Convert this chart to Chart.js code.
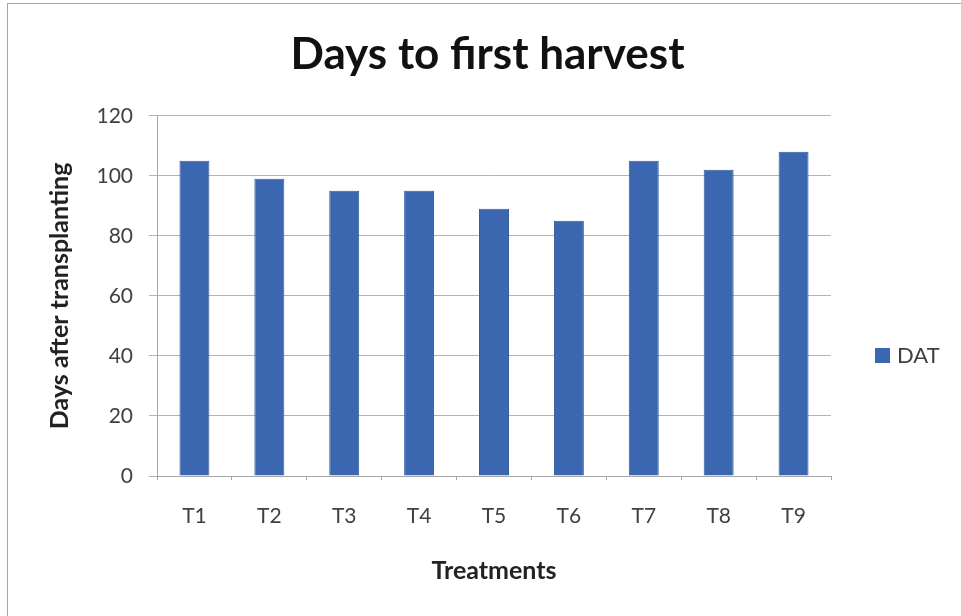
<!DOCTYPE html>
<html lang="en">
<head>
    <meta charset="UTF-8">
    <script src="https://cdn.jsdelivr.net/npm/chart.js@4.4.0/dist/chart.umd.min.js"></script>
    <title>Days to first harvest</title>
    <style>
        body { margin: 0; background: #fff; overflow: hidden; }
        #wrap { position: relative; width: 961px; height: 616px; }
        #frame { position: absolute; left: 7px; top: 3px; width: 1000px; height: 700px;
                 border-left: 1px solid #a6a6a6; border-top: 1px solid #a6a6a6; }
    </style>
</head>

<body>
    <div id="wrap">
        <div id="frame"></div>
        <canvas id="myChart" width="961" height="616"></canvas>
    </div>

    <script>
        var treatments = ['T1', 'T2', 'T3', 'T4', 'T5', 'T6', 'T7', 'T8', 'T9'];
        var dat = [105, 99, 95, 95, 89, 85, 105, 102, 108];
        var yTicks = [0, 20, 40, 60, 80, 100, 120];

        var fontName = 'Lato';
        var barColor = '#3a67b0';

        // legend drawn by hand so it can sit where excel put it
        var sideLegend = {
            id: 'sideLegend',
            afterDraw: function (chart) {
                var ctx = chart.ctx;
                var ds = chart.data.datasets[0];
                var x = chart.chartArea.right + 44;
                var y = 355;
                ctx.save();
                ctx.fillStyle = ds.backgroundColor;
                ctx.fillRect(x, y - 7, 15, 15);
                ctx.fillStyle = '#404040';
                ctx.font = '22px ' + fontName;
                ctx.textBaseline = 'middle';
                ctx.fillText(ds.label, x + 22, y + 1);
                ctx.restore();
            }
        };

        var ctx = document.getElementById('myChart').getContext('2d');
        var chart = new Chart(ctx, {
            type: 'bar',
            data: {
                labels: treatments,
                datasets: [{
                    label: 'DAT',
                    data: dat,
                    backgroundColor: barColor,
                    borderColor: '#2f5a9e',
                    borderWidth: 1,
                    categoryPercentage: 1.0,
                    barPercentage: 0.4
                }]
            },
            options: {
                responsive: false,
                animation: false,
                layout: { padding: { left: 14, right: 0, top: 0, bottom: 0 } },
                plugins: {
                    legend: { display: false },
                    tooltip: { enabled: false },
                    title: {
                        display: true,
                        text: 'Days to first harvest',
                        color: '#111',
                        font: { family: fontName, size: 44, weight: 'bold' },
                        padding: { top: 28, bottom: 35 }
                    }
                },
                scales: {
                    x: {
                        afterFit: function (scale) { scale.height = 140; },
                        grid: { drawOnChartArea: false, drawTicks: true, tickLength: 4, offset: true, color: '#a6a6a6' },
                        border: { color: '#a6a6a6' },
                        ticks: { color: '#404040', font: { family: fontName, size: 21 }, padding: 24 },
                        title: {
                            display: true,
                            text: 'Treatments',
                            color: '#222',
                            font: { family: fontName, size: 25, weight: 'bold' },
                            padding: { top: 0, bottom: 30 }
                        }
                    },
                    y: {
                        min: 0,
                        max: 120,
                        afterFit: function (scale) { scale.width = 143; },
                        afterBuildTicks: function (scale) {
                            scale.ticks = yTicks.map(function (v) { return { value: v }; });
                        },
                        grid: { color: '#b3b3b3', tickLength: 8 },
                        border: { color: '#a6a6a6' },
                        ticks: { color: '#404040', font: { family: fontName, size: 21 }, padding: 16 },
                        title: {
                            display: true,
                            text: 'Days after transplanting',
                            color: '#222',
                            font: { family: fontName, size: 25, weight: 'bold' },
                            padding: { top: 31, bottom: 0 }
                        }
                    },
                    // empty right axis, only keeps room for the legend
                    side: {
                        position: 'right',
                        afterFit: function (scale) { scale.width = 130; },
                        grid: { display: false },
                        border: { display: false },
                        ticks: { display: false }
                    }
                }
            },
            plugins: [sideLegend]
        });
    </script>
</body>

</html>
